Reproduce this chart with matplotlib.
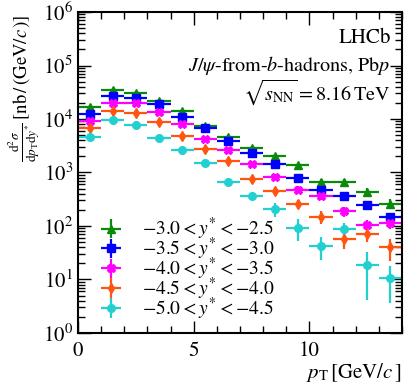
import matplotlib
matplotlib.use('agg')
import matplotlib.pyplot as plt
import numpy as np
from matplotlib.ticker import MultipleLocator, LogLocator, NullFormatter

plt.rcParams['font.family'] = ['STIXGeneral', 'Liberation Serif', 'DejaVu Serif']
plt.rcParams['mathtext.fontset'] = 'stix'

# pT bins (GeV/c)
pt_lo = [0, 1, 2, 3, 4, 5, 6, 7, 8, 9, 10, 11, 12, 13]
pt_hi = [1, 2, 3, 4, 5, 6, 7, 8, 9, 10, 11, 12, 13, 14]

# d2sigma/dpT dy* [nb/(GeV/c)] for each rapidity bin
y_m30_m25 = [16600, 35000, 31000, 22000, 14300, 7500, 4600, 2900, 2000, 1360, 670, 660, 440, 260]
y_m35_m30 = [12300, 27000, 25000, 19000, 11000, 6700, 3800, 2340, 1420, 800, 470, 370, 250, 149]
y_m40_m35 = [9300, 20000, 19500, 13300, 8100, 4300, 2600, 1420, 830, 480, 360, 190, 106, 112]
y_m45_m40 = [6900, 14000, 12800, 8700, 4800, 2700, 1630, 750, 460, 260, 149, 56, 72, 40]
y_m50_m45 = [4700, 9600, 7600, 4400, 2600, 1520, 670, 370, 205, 93, 42, 87, 18.7, 10.6]

e_m30_m25 = [1500, 3000, 2600, 1900, 1200, 700, 430, 280, 200, 150, 90, 90, 68, 55]
e_m35_m30 = [1100, 2300, 2100, 1600, 950, 600, 350, 220, 150, 100, 70, 60, 45, 29]
e_m40_m35 = [850, 1700, 1600, 1150, 700, 400, 250, 150, 100, 70, 60, 40, 25, 25]
e_m45_m40 = [650, 1200, 1100, 800, 450, 270, 170, 90, 70, 50, 39, 19, 22, 18]
e_m50_m45 = [450, 850, 700, 420, 260, 170, 90, 60, 60, 40, 19, 28, 14.5, 7]

labels = [r'$-3.0 < y^{*} < -2.5$', r'$-3.5 < y^{*} < -3.0$', r'$-4.0 < y^{*} < -3.5$',
          r'$-4.5 < y^{*} < -4.0$', r'$-5.0 < y^{*} < -4.5$']

series = [y_m30_m25, y_m35_m30, y_m40_m35, y_m45_m40, y_m50_m45]
errors = [e_m30_m25, e_m35_m30, e_m40_m35, e_m45_m40, e_m50_m45]
colors = ['#0a8a0a', '#0000ff', '#ff00ff', '#ff5511', '#22d0d0']
markers = ['^', 's', 'X', 'd', 'o']
msizes = [6, 6, 6, 5.5, 5.5]

lo = np.array(pt_lo, dtype=float)
hi = np.array(pt_hi, dtype=float)
xc = (lo + hi) / 2
xe = (hi - lo) / 2

fig = plt.figure(figsize=(4.07, 3.90), dpi=100)
ax = fig.add_axes([0.1916, 0.1462, 0.7961, 0.8230])

for vals, errs, c, m, ms, lab in zip(series, errors, colors, markers, msizes, labels):
    ax.errorbar(xc, vals, xerr=xe, yerr=errs, fmt=m, color=c, ms=ms,
                elinewidth=1.6, capsize=0, label=lab)

ax.set_yscale('log')
ax.set_xlim(0, 14)
ax.set_ylim(1, 1e6)

ax.xaxis.set_major_locator(MultipleLocator(5))
ax.xaxis.set_minor_locator(MultipleLocator(1))
ax.yaxis.set_major_locator(LogLocator(base=10, numticks=10))
ax.yaxis.set_minor_locator(LogLocator(base=10, subs=np.arange(2, 10), numticks=20))
ax.yaxis.set_minor_formatter(NullFormatter())
ax.tick_params(which='both', direction='in', top=True, right=True, labelsize=15, width=1)
ax.tick_params(which='major', length=9)
ax.tick_params(which='minor', length=5)
ax.tick_params(axis='x', pad=6)
for s in ax.spines.values():
    s.set_linewidth(1.5)

ax.set_xlabel(r'$p_{\mathrm{T}}\,[\mathrm{GeV}/c\,]$', fontsize=15, loc='right', labelpad=0)
fig.text(0.058, 0.963,
         r'$\frac{\mathrm{d}^2\sigma}{\mathrm{d}p_{\mathrm{T}}\mathrm{d}y^{*}}\,[\mathrm{nb}\,/\,(\mathrm{GeV}/c\,)]$',
         fontsize=13.5, rotation=90, ha='center', va='top')

ax.text(0.965, 0.905, 'LHCb', transform=ax.transAxes, ha='right', fontsize=15)
ax.text(0.965, 0.815, r'$J/\psi$-from-$b$-hadrons, Pb$p$', transform=ax.transAxes, ha='right', fontsize=14.5)
ax.text(0.965, 0.725, r'$\sqrt{s_{\mathrm{NN}}} = 8.16\,\mathrm{TeV}$', transform=ax.transAxes, ha='right', fontsize=14.5)

ax.legend(loc='lower left', bbox_to_anchor=(0.06, 0.035), frameon=False, fontsize=14,
          handlelength=1.4, handletextpad=0.9, labelspacing=-0.32, borderpad=0, borderaxespad=0)

fig.savefig('out.png', dpi=100)
